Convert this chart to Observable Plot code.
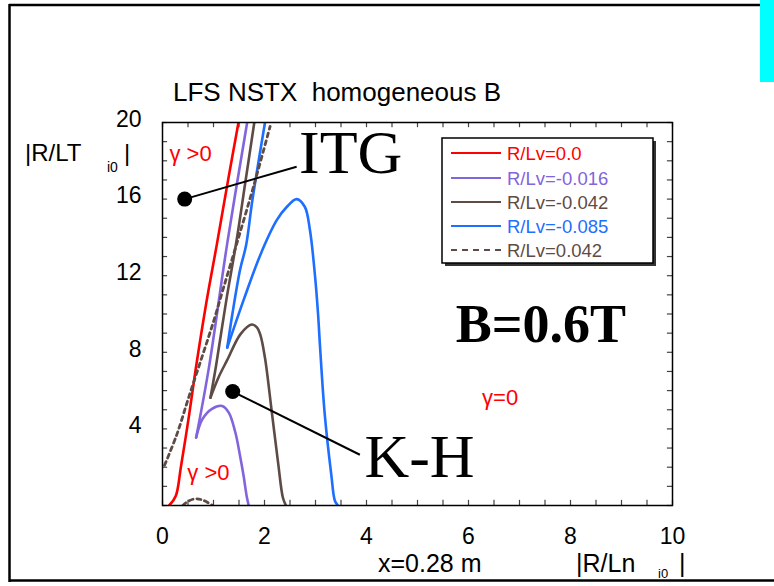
<!DOCTYPE html>
<html>
<head>
<meta charset="utf-8">
<script src="https://cdn.jsdelivr.net/npm/d3@7"></script>
<script src="https://cdn.jsdelivr.net/npm/@observablehq/plot@0.6"></script>
<style>
  html, body { margin: 0; padding: 0; background: #fff; }
  #page { position: relative; width: 774px; height: 586px; overflow: hidden; background: #fff; }
  #page svg { position: absolute; left: 0; top: 0; }
</style>
</head>
<body>
<div id="page"></div>
<script>
// ---------- data ----------
const seriesNames  = ["R/Lv=0.0", "R/Lv=-0.016", "R/Lv=-0.042", "R/Lv=-0.085", "R/Lv=0.042"];
const seriesColors = ["#ff0000", "#8264dc", "#5f4b46", "#1e6eff", "#5f4b46"];
const seriesDash   = [null, null, null, null, "4,4"];

// R/Lv = 0.0 (ITG only)
const redITG = [[0.13,0],[0.26,0.5],[0.36,2.0],[0.52,4.7],[0.65,7.1],[0.86,10.6],[1.07,13.7],[1.28,16.9],[1.49,20]];
// R/Lv = -0.016
const purpleITG = [[0.66,3.55],[0.91,7.2],[1.27,13.7],[1.66,20]];
const purpleKH  = [[0.66,3.55],[0.78,4.5],[0.97,5.05],[1.17,5.2],[1.3,4.85],[1.43,3.8],[1.52,2.6],[1.59,1.55],[1.65,0.5],[1.69,0]];
// R/Lv = -0.042
const brownITG = [[0.94,5.63],[1.05,7.3],[1.25,10.7],[1.45,13.8],[1.62,16.8],[1.80,20]];
const brownKH  = [[0.94,5.63],[1.1,6.7],[1.27,7.6],[1.53,8.95],[1.75,9.45],[1.85,9.3],[1.92,8.9],[2.01,7.7],[2.14,4.95],[2.27,2.16],[2.36,0.42],[2.42,0]];
// R/Lv = -0.085
const blueITG = [[1.27,8.25],[1.37,10],[1.52,12.3],[1.64,13.6],[1.76,15.9],[2.01,20]];
const blueKH  = [[1.27,8.25],[1.6,10.8],[1.92,13.1],[2.24,14.9],[2.44,15.6],[2.63,16.0],[2.79,15.6],[2.89,14.4],[2.99,12.0],[3.05,10.0],[3.09,8.25],[3.18,4.8],[3.31,1.6],[3.38,0.25],[3.44,0]];
// R/Lv = +0.042 (dashed)
const dashITG  = [[0.04,2.1],[0.28,3.7],[0.52,5.7],[0.78,7.8],[1.0,9.6],[1.2,11.4],[1.47,13.8],[1.8,16.8],[2.11,19.8]];
const dashBump = [[0.4,0],[0.5,0.22],[0.65,0.35],[0.8,0.27],[0.98,0]];

// axis ticks
const xTickLabels = [0, 2, 4, 6, 8, 10];
const yTickLabels = [4, 8, 12, 16, 20];
const xMinorTicks = d3.range(0, 10.001, 0.5);
const yMinorTicks = d3.range(0, 20.001, 1);

// annotations
const gammaText = ["γ >0", "γ >0", "γ=0"];
const gammaX    = [0.55, 0.90, 6.62];
const gammaY    = [18.37, 1.72, 5.62];
const bigText   = ["ITG", "K-H"];
const bigX      = [3.69, 5.04];
const bigY      = [18.42, 2.52];
const bText = "B=0.6T", bX = 7.42, bY = 9.44;
const calloutDot = [[0.435, 16.0], [1.376, 5.95]];
const calloutEnd = [[2.63, 17.69], [3.87, 2.65]];

// ---------- build table ----------
const branches = [
  {s: 0, pts: redITG}, {s: 1, pts: purpleITG}, {s: 1, pts: purpleKH},
  {s: 2, pts: brownITG}, {s: 2, pts: brownKH},
  {s: 3, pts: blueITG}, {s: 3, pts: blueKH},
  {s: 4, pts: dashITG}, {s: 4, pts: dashBump}
];
const solidRows = [], dashRows = [];
branches.forEach((b, i) => {
  b.pts.forEach(([x, y]) => {
    const row = {x, y, branch: i, color: seriesColors[b.s]};
    (seriesDash[b.s] ? dashRows : solidRows).push(row);
  });
});
const gammaRows = gammaText.map((t, i) => ({t, x: gammaX[i], y: gammaY[i]}));
const bigRows = bigText.map((t, i) => ({t, x: bigX[i], y: bigY[i]}));
const linkRows = calloutDot.map((d, i) => ({x1: d[0], y1: d[1], x2: calloutEnd[i][0], y2: calloutEnd[i][1]}));

const W = 774, H = 586;
const plot = Plot.plot({
  width: W, height: H,
  marginLeft: 162, marginRight: 102, marginTop: 122, marginBottom: 81,
  style: {fontFamily: "'Liberation Sans', Arial, sans-serif", background: "transparent", overflow: "visible"},
  x: {domain: [0, 10], axis: null},
  y: {domain: [0, 20], axis: null},
  marks: [
    // minor ticks (inward)
    Plot.ruleX(xMinorTicks, {x: d => d, y1: 0, y2: 0.27, stroke: "#444", strokeWidth: 1.2}),
    Plot.ruleX(xMinorTicks, {x: d => d, y1: 19.73, y2: 20, stroke: "#444", strokeWidth: 1.2}),
    Plot.ruleY(yMinorTicks, {y: d => d, x1: 0, x2: 0.1, stroke: "#444", strokeWidth: 1.2}),
    Plot.ruleY(yMinorTicks, {y: d => d, x1: 9.9, x2: 10, stroke: "#444", strokeWidth: 1.2}),
    Plot.axisX({ticks: xTickLabels, tickSize: 0, tickPadding: 22, fontSize: 23, fill: "#000"}),
    Plot.axisY({ticks: yTickLabels, tickSize: 0, tickPadding: 21, fontSize: 23, dy: -3, fill: "#000"}),
    // curves
    Plot.line(solidRows, {x: "x", y: "y", z: "branch", stroke: "color", strokeWidth: 2.6, curve: "catmull-rom", clip: true}),
    Plot.line(dashRows, {x: "x", y: "y", z: "branch", stroke: "color", strokeWidth: 2.8, strokeDasharray: "4,4", curve: "catmull-rom", clip: true}),
    // callouts
    Plot.link(linkRows, {x1: "x1", y1: "y1", x2: "x2", y2: "y2", stroke: "#000", strokeWidth: 2}),
    Plot.dot(calloutDot, {x: d => d[0], y: d => d[1], r: 7.5, fill: "#000", stroke: "none"}),
    // annotations
    Plot.text(gammaRows, {x: "x", y: "y", text: "t", fill: "#ff0000", fontSize: 22}),
    Plot.text(bigRows, {x: "x", y: "y", text: "t", fill: "#000", fontSize: 62, fontFamily: "'Liberation Serif', 'Times New Roman', serif"}),
    Plot.text([bText], {x: () => bX, y: () => bY, text: d => d, fill: "#000", fontSize: 54, fontWeight: "bold", fontFamily: "'Liberation Serif', 'Times New Roman', serif"}),
    Plot.frame({stroke: "#000", strokeWidth: 1.5})
  ]
});

const page = document.getElementById("page");

// page border + decorations (behind)
const deco = d3.create("svg").attr("width", W).attr("height", H)
  .style("font-family", "'Liberation Sans', Arial, sans-serif");
deco.append("line").attr("x1", 9).attr("x2", 760).attr("y1", 5).attr("y2", 5).attr("stroke", "#000").attr("stroke-width", 2.5);
deco.append("line").attr("x1", 9).attr("x2", 774).attr("y1", 580.5).attr("y2", 580.5).attr("stroke", "#000").attr("stroke-width", 2.5);
deco.append("line").attr("x1", 9.5).attr("x2", 9.5).attr("y1", 4).attr("y2", 582).attr("stroke", "#000").attr("stroke-width", 2.5);
deco.append("rect").attr("x", 760).attr("y", 0).attr("width", 14).attr("height", 82).attr("fill", "#00ffff");

// title
deco.append("text").attr("x", 173).attr("y", 101).attr("font-size", 26).style("white-space", "pre").text("LFS NSTX  homogeneous B");
// y label
deco.append("text").attr("x", 25).attr("y", 161).attr("font-size", 24).text("|R/LT");
deco.append("text").attr("x", 107).attr("y", 172).attr("font-size", 14).text("i0");
deco.append("text").attr("x", 124).attr("y", 161).attr("font-size", 24).text("|");
// x label
deco.append("text").attr("x", 378).attr("y", 572).attr("font-size", 25).text("x=0.28 m");
deco.append("text").attr("x", 576).attr("y", 572).attr("font-size", 25).text("|R/Ln");
deco.append("text").attr("x", 658).attr("y", 578).attr("font-size", 13).text("i0");
deco.append("text").attr("x", 679).attr("y", 572).attr("font-size", 25).text("|");

page.appendChild(deco.node());
page.appendChild(plot);

// legend (on top)
const leg = d3.create("svg").attr("width", W).attr("height", H)
  .style("font-family", "'Liberation Sans', Arial, sans-serif");
const lx = 442, ly = 138, lw = 211, lh = 125;
leg.append("rect").attr("x", lx + 3).attr("y", ly + 3).attr("width", lw).attr("height", lh).attr("fill", "#333");
leg.append("rect").attr("x", lx).attr("y", ly).attr("width", lw).attr("height", lh).attr("fill", "#fff").attr("stroke", "#000").attr("stroke-width", 1.5);
const rowY = [153, 178, 202, 226, 250];
seriesNames.forEach((name, i) => {
  leg.append("line").attr("x1", 451).attr("x2", 501).attr("y1", rowY[i]).attr("y2", rowY[i])
    .attr("stroke", seriesColors[i]).attr("stroke-width", 2)
    .attr("stroke-dasharray", seriesDash[i] ? "6,5" : null);
  leg.append("text").attr("x", 507).attr("y", rowY[i]).attr("dy", "0.36em")
    .attr("font-size", 18.5).attr("fill", seriesColors[i]).text(name);
});
page.appendChild(leg.node());
</script>
</body>
</html>
